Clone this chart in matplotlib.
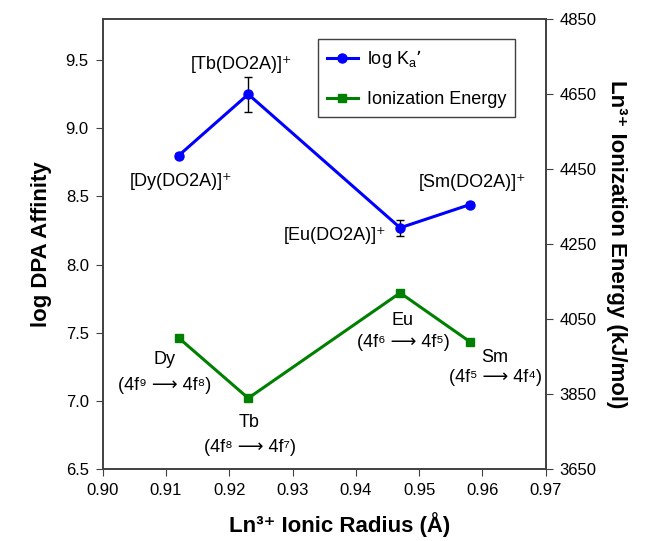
import matplotlib
matplotlib.use("Agg")
import matplotlib.pyplot as plt
from matplotlib import rcParams

rcParams['font.family'] = ['Liberation Sans', 'DejaVu Sans']
rcParams['mathtext.default'] = 'regular'

# data
radius = [0.912, 0.923, 0.947, 0.958]
log_ka = [8.80, 9.25, 8.27, 8.44]
log_ka_err = [0.02, 0.13, 0.06, 0.02]
ion_energy = [4000, 3839, 4120, 3990]
complex_labels = ["[Dy(DO2A)]⁺", "[Tb(DO2A)]⁺", "[Eu(DO2A)]⁺", "[Sm(DO2A)]⁺"]
ion_names = ["Dy", "Tb", "Eu", "Sm"]
ion_configs = ["(4f⁹ ⟶ 4f⁸)", "(4f⁸ ⟶ 4f⁷)", "(4f⁶ ⟶ 4f⁵)", "(4f⁵ ⟶ 4f⁴)"]

# label positions (x, left-axis y)
complex_pos = [(0.9124, 8.61), (0.9219, 9.47), (0.9367, 8.21), (0.9584, 8.60)]
name_pos = [(0.9098, 7.30), (0.9231, 6.84), (0.9473, 7.59), (0.9620, 7.32)]
config_pos = [(0.9098, 7.115), (0.9233, 6.655), (0.9475, 7.43), (0.9620, 7.17)]

fig = plt.figure(figsize=(6.55, 5.41), dpi=100)
ax = fig.add_axes([0.1568, 0.1331, 0.6763, 0.8312])
ax2 = ax.twinx()

# error bars first, then the line on top
ax.errorbar(radius, log_ka, yerr=log_ka_err, fmt="none", ecolor="black",
            elinewidth=1, capsize=3, zorder=2)
ax.plot(radius, log_ka, color="blue", linewidth=2.2, marker="o", markersize=6.5,
        label="log K$_{a}$’", zorder=3)
ax2.plot(radius, ion_energy, color="#008000", linewidth=2.2, marker="s",
         markersize=6, label="Ionization Energy")

for (x, y), lab in zip(complex_pos, complex_labels):
    ax.text(x, y, lab, ha="center", va="center", fontsize=13)

for (x, y), (cx, cy), n, c in zip(name_pos, config_pos, ion_names, ion_configs):
    ax.text(x, y, n, ha="center", va="center", fontsize=13)
    ax.text(cx, cy, c, ha="center", va="center", fontsize=13)

ax.set_xlim(0.90, 0.97)
ax.set_ylim(6.5, 9.8)
ax2.set_ylim(3650, 4850)
ax.set_xticks([0.90, 0.91, 0.92, 0.93, 0.94, 0.95, 0.96, 0.97])
ax.set_xticklabels(["%.2f" % v for v in ax.get_xticks()])
ax.set_yticks([6.5, 7.0, 7.5, 8.0, 8.5, 9.0, 9.5])
ax2.set_yticks([3650, 3850, 4050, 4250, 4450, 4650, 4850])

for a in (ax, ax2):
    a.tick_params(labelsize=12, direction="out", length=5, pad=5, color="#404040")
    for s in a.spines.values():
        s.set_color("#404040")
        s.set_linewidth(1.2)

ax.set_xlabel("Ln³⁺ Ionic Radius (Å)", fontsize=16, fontweight="bold", labelpad=10)
ax.xaxis.label.set_x(0.535)
ax.set_ylabel("log DPA Affinity", fontsize=16, fontweight="bold", labelpad=10)
ax2.set_ylabel("Ln³⁺ Ionization Energy (kJ/mol)", fontsize=16, fontweight="bold",
               rotation=270, labelpad=22)

h1, l1 = ax.get_legend_handles_labels()
h2, l2 = ax2.get_legend_handles_labels()
leg = ax.legend(h1 + h2, l1 + l2, loc="upper left", bbox_to_anchor=(0.486, 0.956),
                borderaxespad=0, fontsize=13, fancybox=False, edgecolor="#404040",
                framealpha=1, labelspacing=1.15, borderpad=0.5, handlelength=1.7,
                handletextpad=0.5)
leg.get_frame().set_linewidth(1.0)
leg.set_zorder(5)

plt.savefig("out.png", dpi=100)
